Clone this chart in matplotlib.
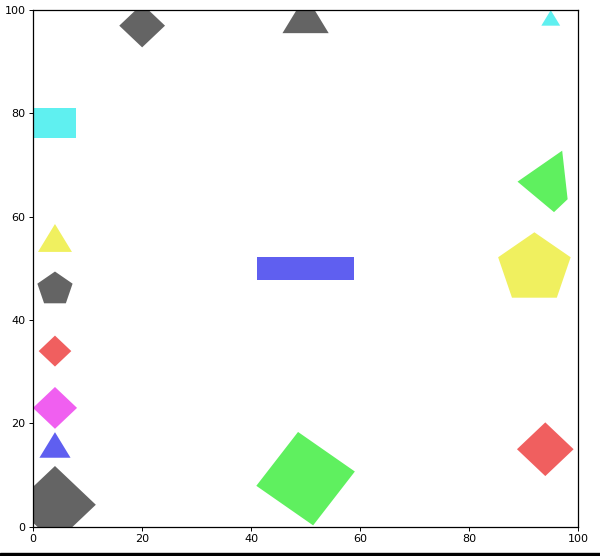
import numpy as np
import matplotlib
matplotlib.use('Agg')
import matplotlib.pyplot as plt
from matplotlib.patches import RegularPolygon, Rectangle, Polygon

# regular polygons: centre, radius, number of corners, rotation (deg), colour
poly_x = [20, 50, 95, 4, 92, 4, 4, 4, 4, 4, 50, 94]
poly_y = [97, 98, 98, 55, 50, 46, 34, 23, 15, 4.25, 9.3, 15]
poly_r = [4.2, 4.9, 2.0, 3.6, 7.0, 3.4, 3.0, 4.05, 3.3, 7.5, 9.15, 5.2]
poly_n = [4, 3, 3, 3, 5, 5, 4, 4, 3, 4, 4, 4]
poly_rot = [0, 0, 0, 0, 0, 0, 0, 0, 0, 0, 8.7, 0]
poly_c = ['#646464', '#646464', '#5ff0f0', '#f0f05f', '#f0f05f', '#646464',
          '#f05f5f', '#f05ff0', '#5f5ff0', '#646464', '#5ff05f', '#f05f5f']

# rectangles: lower left corner, width, height, colour
rect_x = [0.0, 41.1]
rect_y = [75.3, 47.8]
rect_w = [7.9, 17.8]
rect_h = [5.8, 4.4]
rect_c = ['#5ff0f0', '#5f5ff0']

# the odd green quadrilateral top right
quad_x = [97.1, 98.1, 95.6, 88.9]
quad_y = [72.8, 63.4, 60.9, 66.8]
quad_c = '#5ff05f'

fig = plt.figure(figsize=(6, 5.56), dpi=100)
ax = fig.add_axes([0.0553, 0.0527, 0.908, 0.929])

for x, y, r, n, rot, c in zip(poly_x, poly_y, poly_r, poly_n, poly_rot, poly_c):
    ax.add_patch(RegularPolygon((x, y), numVertices=n, radius=r,
                                orientation=np.deg2rad(rot), color=c, lw=0))

for x, y, w, h, c in zip(rect_x, rect_y, rect_w, rect_h, rect_c):
    ax.add_patch(Rectangle((x, y), w, h, color=c, lw=0))

ax.add_patch(Polygon(np.column_stack([quad_x, quad_y]), closed=True, color=quad_c, lw=0))

ax.set_xlim(0, 100)
ax.set_ylim(0, 100)
ax.set_xticks([0, 20, 40, 60, 80, 100])
ax.set_yticks([0, 20, 40, 60, 80, 100])
ax.tick_params(labelsize=8, length=2.9, width=0.7, pad=2.5)
for s in ax.spines.values():
    s.set_linewidth(0.9)

# dark band at the very bottom of the frame
fig.patches.append(Rectangle((0, 0), 1, 3.5 / 556, transform=fig.transFigure,
                             color='black', zorder=10))

fig.savefig('out.png', dpi=100)
